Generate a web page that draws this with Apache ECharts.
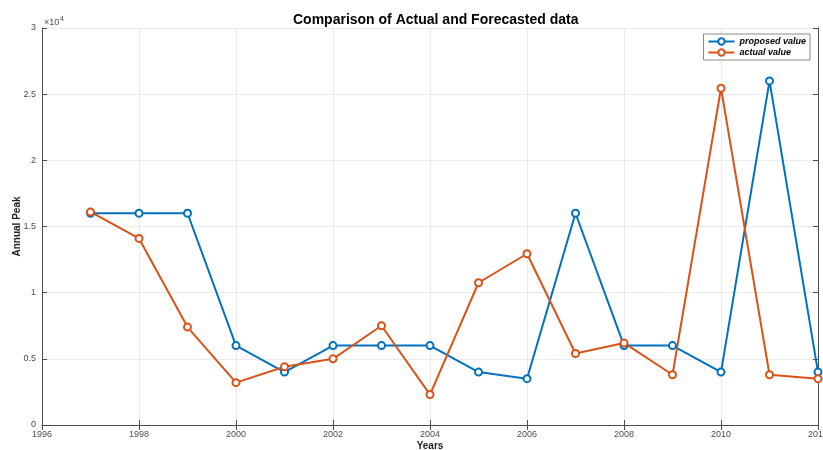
<!DOCTYPE html>
<html><head><meta charset="utf-8">
<script src="https://cdn.jsdelivr.net/npm/echarts@6/dist/echarts.min.js"></script>
<style>html,body{margin:0;padding:0;background:#fff}#c{width:823px;height:450px}</style>
</head><body><div id="c"></div>
<script>
const years = [1997,1998,1999,2000,2001,2002,2003,2004,2005,2006,2007,2008,2009,2010,2011,2012];
const proposedValue = [16000,16000,16000,6000,4000,6000,6000,6000,4000,3500,16000,6000,6000,4000,26000,4000];
const actualValue = [16100,14100,7400,3200,4400,5000,7500,2300,10750,12940,5400,6200,3800,25450,3800,3500];
const xTicks = [1996,1998,2000,2002,2004,2006,2008,2010,2012];
const yTickLabels = ['0','0.5','1','1.5','2','2.5','3'];

const FONT = 'Liberation Sans, Arial, Helvetica, sans-serif';
const AX = '#4d4d4d';
const chart = echarts.init(document.getElementById('c'));
const pair = (xs, ys) => xs.map((x, i) => [x, ys[i]]);
const axisBase = {
  axisLine: {show: true, lineStyle: {color: AX, width: 1}},
  axisTick: {show: true, inside: true, length: 5, lineStyle: {color: AX}},
};
chart.setOption({
  animation: false,
  title: {text: 'Comparison of Actual and Forecasted data', left: 288, top: 8,
    textStyle: {fontFamily: FONT, fontSize: 14, fontWeight: 'bold', color: '#000'}},
  grid: {left: 42, right: 5, top: 28, bottom: 25, containLabel: false, outerBoundsMode: 'none'},
  legend: {orient: 'vertical', right: 13, top: 34, itemWidth: 26, itemHeight: 8, itemGap: 2,
    padding: [3, 4, 3, 4], borderColor: '#8a8a8a', borderWidth: 1, backgroundColor: '#fff',
    textStyle: {fontFamily: FONT, fontSize: 9, fontStyle: 'italic', fontWeight: 'bold', color: '#000'},
    data: ['proposed value', 'actual value']},
  graphic: [{type: 'text', left: 44, top: 18, style: {text: '×10', font: '9px ' + FONT, fill: AX}},
            {type: 'text', left: 60, top: 16, style: {text: '4', font: '7px ' + FONT, fill: AX}}],
  xAxis: [
    Object.assign({type: 'value', min: xTicks[0], max: xTicks[xTicks.length - 1], interval: 2,
      name: 'Years', nameLocation: 'middle', nameGap: 16, nameMoveOverlap: false,
      nameTextStyle: {fontFamily: FONT, fontSize: 10, fontWeight: 'bold', color: '#222'},
      axisLabel: {fontFamily: FONT, fontSize: 9, color: AX, margin: 5, formatter: v => String(v)},
      splitLine: {show: true, lineStyle: {color: '#ebebeb'}}}, axisBase),
    Object.assign({type: 'value', position: 'top', min: xTicks[0], max: xTicks[xTicks.length - 1], interval: 2,
      axisLabel: {show: false}, splitLine: {show: false}}, axisBase)
  ],
  yAxis: [
    Object.assign({type: 'value', min: 0, max: 30000, interval: 5000,
      name: 'Annual Peak', nameLocation: 'middle', nameGap: 20, nameRotate: 90, nameMoveOverlap: false,
      nameTextStyle: {fontFamily: FONT, fontSize: 10, fontWeight: 'bold', color: '#222'},
      axisLabel: {fontFamily: FONT, fontSize: 9, color: AX, margin: 6,
        formatter: v => yTickLabels[Math.round(v / 5000)]},
      splitLine: {show: true, lineStyle: {color: '#ebebeb'}}}, axisBase),
    Object.assign({type: 'value', position: 'right', min: 0, max: 30000, interval: 5000,
      axisLabel: {show: false}, splitLine: {show: false}}, axisBase)
  ],
  series: [
    {name: 'proposed value', type: 'line', data: pair(years, proposedValue),
      symbol: 'emptyCircle', symbolSize: 7, color: '#0072BD',
      lineStyle: {width: 2}, itemStyle: {borderWidth: 1.6}},
    {name: 'actual value', type: 'line', data: pair(years, actualValue),
      symbol: 'emptyCircle', symbolSize: 7, color: '#D95319',
      lineStyle: {width: 2}, itemStyle: {borderWidth: 1.6}}
  ]
});
</script></body></html>
